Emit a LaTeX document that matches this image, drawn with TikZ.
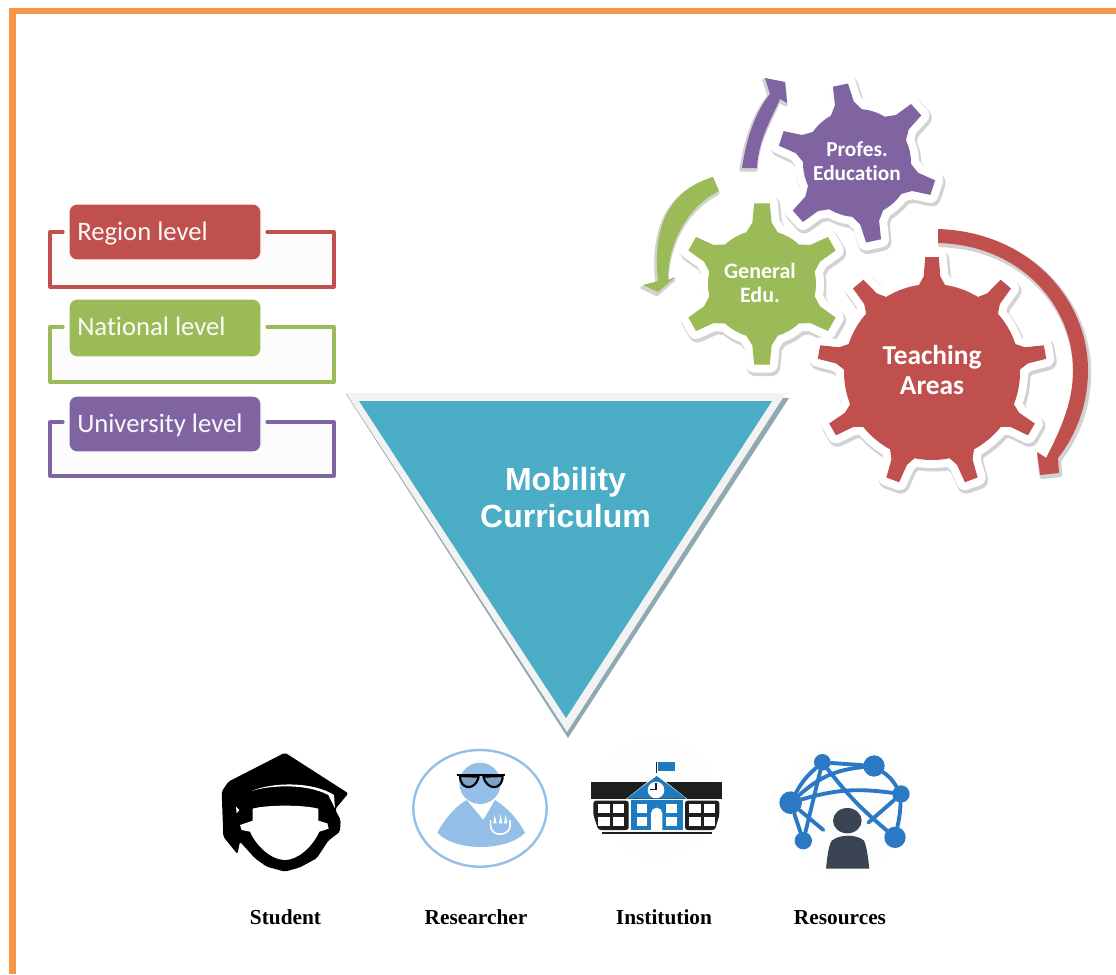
\documentclass[tikz,border=0pt]{standalone}
\usepackage{fontspec}
\setmainfont{Liberation Serif}
\newfontfamily\calib[Ligatures=NoCommon]{Carlito}
\newfontfamily\arialf{Liberation Sans}
\definecolor{cOrange}{HTML}{F79646}
\definecolor{cRed}{HTML}{C0504D}
\definecolor{cGreen}{HTML}{9BBB59}
\definecolor{cPurple}{HTML}{8064A2}
\definecolor{cTeal}{HTML}{4BACC6}
\definecolor{cRim}{HTML}{F2F2F2}
\definecolor{cTriShadow}{HTML}{8FA9B2}
\definecolor{cIconBlue}{HTML}{95BFE8}
\definecolor{cNet}{HTML}{2B78C5}
\definecolor{cSlate}{HTML}{3A4454}
\definecolor{cSchool}{HTML}{1F7BC0}
\definecolor{cInk}{HTML}{1E1E1E}
% cx cy R r n phase tipHalfAngle baseHalfAngle
\newcommand{\gearshape}[8]{%
  ({#1+#3*cos(#6-#7)},{#2-#3*sin(#6-#7)})
  \foreach \i [evaluate=\i as \a using #6+\i*360/#5] in {1,...,#5} {
    -- ({#1+#3*cos(\a-360/#5+#7)},{#2-#3*sin(\a-360/#5+#7)})
    -- ({#1+(#4+.3*(#3-#4))*cos(\a-360/#5+#7+.3*(#8-#7))},{#2-(#4+.3*(#3-#4))*sin(\a-360/#5+#7+.3*(#8-#7))})
    \foreach \j [evaluate=\j as \b using \a-360/#5+#8+\j*(360/#5-2*#8)/10] in {0,...,10} {
      -- ({#1+#4*cos(\b)},{#2-#4*sin(\b)})
    }
    -- ({#1+(#4+.3*(#3-#4))*cos(\a-#7-.3*(#8-#7))},{#2-(#4+.3*(#3-#4))*sin(\a-#7-.3*(#8-#7))})
    -- ({#1+#3*cos(\a-#7)},{#2-#3*sin(\a-#7)})
  } -- cycle}
\newcommand{\geardraw}[9]{%
  \path[gearshadow,shift={(1.5,2.5)}] \gearshape{#1}{#2}{#3}{#4}{#5}{#6}{#7}{#8};
  \path[gearhalo] \gearshape{#1}{#2}{#3}{#4}{#5}{#6}{#7}{#8};
  \path[fill=#9] \gearshape{#1}{#2}{#3}{#4}{#5}{#6}{#7}{#8};
}
\tikzset{
  gearshadow/.style={fill=gray!35,draw=gray!35,line width=13.5pt,line join=round},
  gearhalo/.style={fill=white,draw=white,line width=12pt,line join=round},
  arcshadow/.style={fill=gray!35,draw=gray!35,line width=2.5pt,line join=round},
  frameline/.style={line width=2.4pt,line join=round,line cap=round},
  gearlabel/.style={text=white,align=center,font=\calib\bfseries},
  iconlabel/.style={font=\bfseries\fontsize{16}{18}\selectfont,text=black,inner sep=0pt,anchor=base},
  netdot/.style={circle,fill=cNet,inner sep=0pt},
  netline/.style={draw=cNet,line width=2.9pt,line cap=round},
}
\begin{document}
\begin{tikzpicture}[x=0.75pt,y=-0.75pt]
\useasboundingbox (0,0) rectangle (1116,974);
\fill[white] (0,0) rectangle (1116,974);
% page border
\fill[cOrange] (9,8) rectangle (1116,14);
\fill[cOrange] (9,8) rectangle (16,974);

% level frames
\foreach \col/\t/\b in {cRed/232/287,cGreen/327/382,cPurple/422/476}{
  \fill[gray!2] (50,\t) rectangle (334,\b);
  \draw[frameline,draw=\col] (63,\t) -- (50,\t) -- (50,\b) -- (334,\b) -- (334,\t) -- (267,\t);
}
\path[fill=cRed,draw=white,line width=.8pt,rounded corners=6pt] (69,204) rectangle (261,260);
\path[fill=cGreen,draw=white,line width=.8pt,rounded corners=6pt] (69,299) rectangle (261,357);
\path[fill=cPurple,draw=white,line width=.8pt,rounded corners=6pt] (69,396) rectangle (261,452);
\node[anchor=base west,inner sep=0pt,text=white!96!cRed,font=\calib\fontsize{20}{24}\selectfont] (region) at (77,240) {Region level};
\node[anchor=base west,inner sep=0pt,text=white!96!cGreen,font=\calib\fontsize{20}{24}\selectfont] (national) at (77,335) {National level};
\node[anchor=base west,inner sep=0pt,text=white!96!cPurple,font=\calib\fontsize{20}{24}\selectfont] (university) at (77,432) {University level};

% gears
\geardraw{857}{163}{80}{54}{6}{102}{5.5}{17}{cPurple}
\geardraw{762}{284}{81}{54}{6}{90}{5.5}{17}{cGreen}
\geardraw{932}{372}{115}{88}{9}{90}{3.4}{8.5}{cRed}
\node[gearlabel,font=\calib\bfseries\fontsize{16}{19}\selectfont] (profes) at (857,161) {Profes.\\[-.5pt]Education};
\node[gearlabel,font=\calib\bfseries\fontsize{16.5}{18.5}\selectfont] (general) at (760,283) {General\\[-.5pt]Edu.};
\node[gearlabel,font=\calib\bfseries\fontsize{20.5}{22}\selectfont] (teaching) at (932,370) {Teaching\\Areas};

% curved arrows
\def\redarc{(938,229) .. controls (1030,232) and (1088,300) .. (1088,370) .. controls (1088,405) and (1076,435) .. (1058,458) -- (1059,473) -- (1040,475) -- (1037,452) -- (1046,458) .. controls (1063,425) and (1073,400) .. (1073,370) .. controls (1073,305) and (1020,245) .. (938,243) -- cycle}
\def\greenarc{(713,177) .. controls (670,190) and (652,225) .. (658,281) -- (643,285) -- (658,292) -- (675,277) -- (668,280) .. controls (668,240) and (690,205) .. (719,191) -- cycle}
\def\purplearc{(742,168) .. controls (746,140) and (755,112) .. (770,94) -- (765,78) -- (785,82) -- (787,103) -- (780,99) .. controls (772,118) and (758,140) .. (757,168) -- cycle}
\path[arcshadow,shift={(1.5,2.5)}] \redarc;
\path[arcshadow,shift={(-1,2.5)}] \greenarc;
\path[arcshadow,shift={(-1,2)}] \purplearc;
\fill[cRed] \redarc;
\fill[cGreen] \greenarc;
\fill[cPurple] \purplearc;

% triangle
\fill[cTriShadow] (346,394) -- (789,398) -- (568,738) -- cycle;
\fill[cRim] (346,393) -- (786,393) -- (567,732) -- cycle;
\fill[cTeal] (359,401) -- (772,401) -- (566,718) -- cycle;
\node[text=white,align=center,font=\arialf\bfseries\fontsize{24}{27.7}\selectfont,inner sep=0pt] (mobility) at (565.5,498) {Mobility\\Curriculum};

% student icon
\begin{scope}[shift={(200,730)},x=0.25pt,y=-0.25pt]
\fill[black,rounded corners=1.5pt] (255,68) -- (445,190) -- (405,238) -- (422,270) -- (420,305) -- (385,332) -- (350,385) -- (300,412) -- (255,425) -- (200,410) -- (165,385) -- (120,335) -- (112,372) -- (70,320) -- (65,185) -- (85,155) -- cycle;
\fill[white] (155,183) .. controls (210,165) and (320,160) .. (385,195) -- (405,235) -- (402,195) .. controls (340,155) and (220,155) .. (155,183) -- cycle;
\fill[white] (158,236) .. controls (200,224) and (310,224) .. (355,236) -- (355,272) -- (382,280) -- (386,296) -- (358,305) .. controls (335,355) and (290,390) .. (255,390) .. controls (215,390) and (170,350) .. (150,305) -- (125,300) -- (120,285) -- (158,272) -- cycle;
\fill[white] (108,230) -- (118,240) -- (110,250) -- cycle;
\end{scope}

% researcher icon
\begin{scope}[shift={(200,730)},x=0.25pt,y=-0.25pt]
\draw[cIconBlue,line width=1.8pt] (840,235) ellipse [x radius=200,y radius=175];
\fill[cIconBlue] (840,160) circle [x radius=62,y radius=62];
\fill[cIconBlue] (712,308) .. controls (735,265) and (765,230) .. (800,210) -- (850,270) -- (885,210) .. controls (925,235) and (955,270) .. (975,308) .. controls (930,360) and (770,370) .. (712,308) -- cycle;
\draw[black,line width=1.6pt,fill=cIconBlue!85!black,line join=round] (780,138) .. controls (780,182) and (828,182) .. (836,140) -- cycle;
\draw[black,line width=1.6pt,fill=cIconBlue!85!black,line join=round] (908,138) .. controls (908,182) and (860,182) .. (850,140) -- cycle;
\draw[black,line width=1.7pt] (770,134) -- (915,134);
\draw[white,line width=1.2pt,line cap=round] (872,272) -- (872,290) .. controls (875,320) and (925,320) .. (930,290) -- (930,272);
\fill[white] (880,280) -- (884,255) -- (890,280) -- cycle;
\fill[white] (897,280) -- (902,252) -- (907,280) -- cycle;
\fill[white] (912,280) -- (917,255) -- (922,280) -- cycle;
\end{scope}

% institution icon
\begin{scope}[shift={(570,730)},x=0.25pt,y=-0.25pt]
\fill[gray!1.5] (260,205) circle [x radius=180,y radius=180];
\fill[cInk] (63,155) rectangle (455,207);
\fill[cInk,rounded corners=2pt] (70,212) -- (176,212) -- (176,300) -- (85,300) -- (70,255) -- cycle;
\fill[cInk,rounded corners=2pt] (345,212) -- (448,212) -- (448,255) -- (435,300) -- (345,300) -- cycle;
\fill[cInk] (95,306) rectangle (425,312);
\draw[white,line width=.7pt] (170,207) -- (260,136) -- (350,207);
\fill[cSchool] (170,206) -- (260,138) -- (350,206) -- cycle;
\fill[cSchool] (183,210) rectangle (338,300);
\foreach \x/\y/\w in {85/222/35,130/222/32,85/262/35,130/262/32,358/222/34,403/222/33,358/262/34,403/262/33,200/222/32,288/222/32,200/262/32,288/262/32}{
  \fill[white] (\x,\y) rectangle +(\w,27);
}
\fill[white] (243,300) -- (243,250) arc [start angle=180,end angle=0,x radius=17,y radius=-17] -- (277,300) -- cycle;
\fill[white] (258,180) circle [x radius=25,y radius=25];
\draw[cInk,line width=.8pt] (258,160) -- (258,178) -- (240,178);
\draw[cInk,line width=.9pt] (259,95) -- (259,130);
\fill[cSchool] (265,95) rectangle (315,122);
\end{scope}

% resources icon
\begin{scope}[shift={(570,730)},x=0.25pt,y=-0.25pt]
\fill[gray!1.5] (825,240) circle [x radius=195,y radius=195];
\node[netdot,minimum size=12.5pt] (n1) at (757,97) {};
\node[netdot,minimum size=16pt] (n2) at (912,108) {};
\node[netdot,minimum size=13pt] (n3) at (993,192) {};
\node[netdot,minimum size=16pt] (n4) at (975,322) {};
\node[netdot,minimum size=13pt] (n5) at (700,332) {};
\node[netdot,minimum size=17pt] (n6) at (662,218) {};
\coordinate (free1) at (760,300);
\coordinate (free2) at (895,278);
\draw[netline] (n6) to[bend left=10] (n1);
\draw[netline] (n1) -- (n2);
\draw[netline] (n2) to[bend left=12] (n3);
\draw[netline] (n3) to[bend left=5] (n4);
\draw[netline] (n6) -- (n5);
\draw[netline] (n1) -- (n5);
\draw[netline] (n1) to[bend right=6] (n4);
\draw[netline] (n6) to[bend left=18] (n2);
\draw[netline] (n6) to[bend left=12] (n3);
\draw[netline] (n6) -- (free1);
\draw[netline] (n3) -- (free2);
\fill[cSlate] (832,272) circle [x radius=43,y radius=38];
\fill[cSlate] (768,416) .. controls (772,380) and (775,350) .. (785,332) .. controls (810,312) and (860,312) .. (882,332) .. controls (890,350) and (894,380) .. (898,416) -- cycle;
\end{scope}

% labels
\node[iconlabel] (student) at (285.5,924) {Student};
\node[iconlabel] (researcher) at (476,924) {Researcher};
\node[iconlabel] (institution) at (664,924) {Institution};
\node[iconlabel] (resources) at (840,924) {Resources};
\end{tikzpicture}
\end{document}
